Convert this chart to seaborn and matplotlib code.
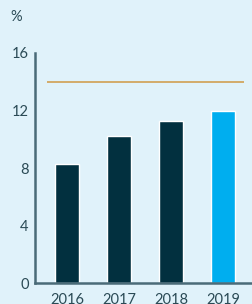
import matplotlib
matplotlib.use("Agg")
import matplotlib.pyplot as plt
import seaborn as sns
import pandas as pd

years = ["2016", "2017", "2018", "2019"]
values = [8.3, 10.2, 11.3, 12.0]
bar_colors = ["#02303F", "#02303F", "#02303F", "#00AEEF"]
target = 14.0
y_ticks = [0, 4, 8, 12, 16]

bg = "#E0F2FA"
text_color = "#2A4A55"
spine_color = "#4A6B78"

sns.set_theme(style="white")
plt.rcParams["font.family"] = ["Lato", "DejaVu Sans"]

df = pd.DataFrame({"year": years, "value": values})

fig = plt.figure(figsize=(2.53, 3.04), dpi=100, facecolor=bg)
ax = fig.add_axes([0.138, 0.068, 0.862, 0.758])
ax.set_facecolor(bg)

sns.barplot(data=df, x="year", y="value", hue="year", palette=bar_colors,
            legend=False, width=0.46, saturation=1, ax=ax)
ax.hlines(target, -0.385, 3.404, color="#D2A65E", linewidth=1.3)

ax.set_xlim(-0.615, 3.577)
ax.set_ylim(0, 16)
ax.set_yticks(y_ticks)
ax.set_xlabel("")
ax.set_ylabel("")
ax.tick_params(axis="both", length=0, colors=text_color, labelsize=10.5)
ax.tick_params(axis="y", pad=4.5)
ax.tick_params(axis="x", pad=7)

for side in ["top", "right"]:
    ax.spines[side].set_visible(False)
for side in ["left", "bottom"]:
    ax.spines[side].set_color(spine_color)
    ax.spines[side].set_linewidth(1.8)

fig.text(0.063, 0.945, "%", color=text_color, fontsize=10.5, ha="center", va="center")

fig.savefig("out.png", dpi=100, facecolor=bg)
